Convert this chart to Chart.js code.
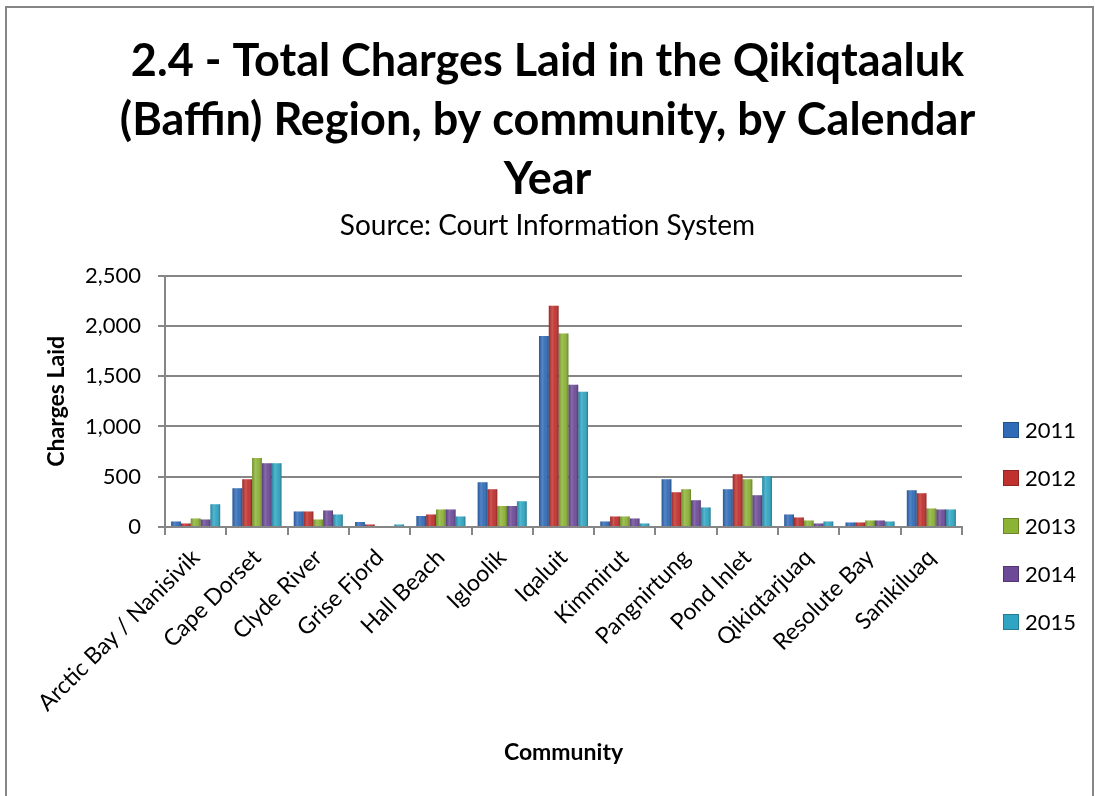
<!DOCTYPE html>
<html>
<head>
<meta charset="utf-8">
<script src="https://cdn.jsdelivr.net/npm/chart.js@4.4.1/dist/chart.umd.min.js"></script>
<style>
  html, body { margin: 0; padding: 0; background: #ffffff; }
  #wrap { width: 1095px; height: 796px; position: relative; }
</style>
</head>
<body>
<div id="wrap"><canvas id="c" width="1095" height="796"></canvas></div>
<script>
const categories = ["Arctic Bay / Nanisivik", "Cape Dorset", "Clyde River", "Grise Fjord", "Hall Beach", "Igloolik", "Iqaluit", "Kimmirut", "Pangnirtung", "Pond Inlet", "Qikiqtarjuaq", "Resolute Bay", "Sanikiluaq"];
const years = ["2011", "2012", "2013", "2014", "2015"];
const v2011 = [55, 385, 155, 50, 110, 445, 1900, 55, 475, 375, 125, 45, 365];
const v2012 = [35, 475, 155, 25, 125, 375, 2200, 105, 345, 525, 95, 45, 335];
const v2013 = [85, 685, 75, 10, 175, 210, 1925, 105, 375, 475, 65, 65, 185];
const v2014 = [75, 635, 165, 10, 175, 210, 1415, 85, 265, 315, 35, 65, 175];
const v2015 = [225, 635, 125, 25, 105, 255, 1345, 35, 195, 505, 55, 55, 175];
const yTicks = [0, 500, 1000, 1500, 2000, 2500];
const colors = ["#306BB8", "#C0312E", "#8CB236", "#6D4A98", "#2FA5C3"];

const FONT = "Lato, 'Open Sans', sans-serif";

const borderPlugin = {
  id: 'outerBorder',
  beforeDraw(chart) {
    const ctx = chart.ctx;
    ctx.save();
    ctx.fillStyle = '#ffffff';
    ctx.fillRect(0, 0, chart.width, chart.height);
    ctx.strokeStyle = '#868686';
    ctx.lineWidth = 2;
    ctx.strokeRect(6, 7, chart.width - 8, chart.height + 10);
    ctx.restore();
  }
};

const bevelPlugin = {
  id: 'bevel',
  afterDatasetsDraw(chart) {
    const ctx = chart.ctx;
    ctx.save();
    chart.data.datasets.forEach((ds, di) => {
      const meta = chart.getDatasetMeta(di);
      meta.data.forEach(el => {
        const x0 = el.x - el.width / 2, w = el.width;
        const top = Math.min(el.y, el.base), h = Math.abs(el.base - el.y);
        if (h < 0.5) return;
        const g = ctx.createLinearGradient(x0, 0, x0 + w, 0);
        g.addColorStop(0, 'rgba(0,0,0,0.18)');
        g.addColorStop(0.35, 'rgba(255,255,255,0.18)');
        g.addColorStop(0.6, 'rgba(255,255,255,0.05)');
        g.addColorStop(1, 'rgba(0,0,0,0.28)');
        ctx.fillStyle = g;
        ctx.fillRect(x0, top, w, h);
      });
    });
    ctx.restore();
  }
};

const legendPlugin = {
  id: 'sideLegend',
  afterDraw(chart) {
    const ctx = chart.ctx;
    ctx.save();
    ctx.font = "22px " + FONT;
    ctx.textBaseline = 'middle';
    ctx.textAlign = 'left';
    chart.data.datasets.forEach((ds, i) => {
      const cy = 430 + i * 48;
      ctx.fillStyle = ds.backgroundColor;
      ctx.fillRect(1003, cy - 8, 16, 16);
      ctx.strokeStyle = 'rgba(0,0,0,0.25)';
      ctx.lineWidth = 1;
      ctx.strokeRect(1003.5, cy - 7.5, 15, 15);
      ctx.fillStyle = '#000000';
      ctx.fillText(ds.label, 1025, cy + 1);
    });
    ctx.restore();
  }
};

const seriesValues = [v2011, v2012, v2013, v2014, v2015];

new Chart(document.getElementById('c'), {
  type: 'bar',
  data: {
    labels: categories,
    datasets: years.map((y, i) => ({
      label: y,
      data: seriesValues[i],
      backgroundColor: colors[i],
      borderWidth: 0,
      categoryPercentage: 0.8,
      barPercentage: 1.0
    }))
  },
  options: {
    responsive: false,
    animation: false,
    devicePixelRatio: 1,
    layout: { padding: { left: 0, right: 0, top: 0, bottom: 0 } },
    plugins: {
      legend: { display: false },
      tooltip: { enabled: false },
      title: {
        display: true,
        text: ["2.4 - Total Charges Laid in the Qikiqtaaluk", "(Baffin) Region, by community, by Calendar", "Year"],
        color: '#000000',
        font: { family: FONT, size: 45, weight: 'bold', lineHeight: 1.311 },
        padding: { top: 32, bottom: 0 }
      },
      subtitle: {
        display: true,
        text: "Source: Court Information System",
        color: '#000000',
        font: { family: FONT, size: 28, lineHeight: 1.2 },
        padding: { top: 0, bottom: 33 }
      }
    },
    scales: {
      x: {
        afterFit(scale) { scale.height = 269; },
        grid: { display: true, drawOnChartArea: false, offset: true, color: '#868686', lineWidth: 2, tickLength: 8 },
        border: { display: true, color: '#868686', width: 2 },
        ticks: {
          color: '#000000',
          font: { family: FONT, size: 23 },
          minRotation: 45, maxRotation: 45, autoSkip: false, padding: 9
        },
        title: {
          display: true, text: 'Community', color: '#000000',
          font: { family: FONT, size: 23, weight: 'bold', lineHeight: 1.2 },
          padding: { top: 0, bottom: 30 }
        }
      },
      y: {
        min: 0, max: 2500,
        afterFit(scale) { scale.width = 165; },
        afterBuildTicks(scale) { scale.ticks = yTicks.map(v => ({ value: v })); },
        grid: { color: '#868686', lineWidth: 2, tickLength: 7 },
        border: { display: true, color: '#868686', width: 2 },
        ticks: {
          color: '#000000',
          font: { family: FONT, size: 22 },
          padding: 17,
          callback: (v) => Number(v).toLocaleString('en-US')
        },
        title: {
          display: true, text: 'Charges Laid', color: '#000000',
          font: { family: FONT, size: 23, weight: 'bold', lineHeight: 1.2 },
          padding: { top: 43, bottom: 0 }
        }
      },
      legendSpace: {
        type: 'linear',
        position: 'right',
        afterFit(scale) { scale.width = 133; },
        grid: { display: false, drawOnChartArea: false },
        border: { display: false },
        ticks: { display: false },
        title: { display: false }
      }
    }
  },
  plugins: [borderPlugin, bevelPlugin, legendPlugin]
});
</script>
</body>
</html>
